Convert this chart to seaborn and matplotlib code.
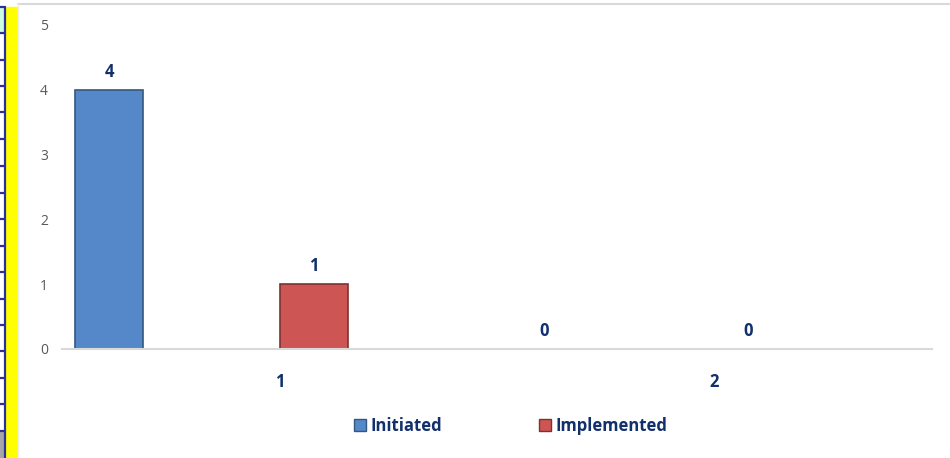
import numpy as np
import pandas as pd
import matplotlib
matplotlib.use("Agg")
import matplotlib.pyplot as plt
from matplotlib.patches import Rectangle, Patch
from matplotlib.lines import Line2D
from matplotlib.colors import to_hex
import seaborn as sns

# chart data
categories = ['1', '2']
initiated = [4, 0]
implemented = [1, 0]
y_ticks = [0, 1, 2, 3, 4, 5]

# excel style: 6 series slots per category, only two are used
slots = ['Initiated', 'empty 1', 'empty 2', 'Implemented', 'empty 3', 'empty 4']
palette = {s: 'white' for s in slots}
palette['Initiated'] = '#5588C8'
palette['Implemented'] = '#CD5553'
edges = {'#5588c8': '#34577F', '#cd5553': '#7E3230'}
navy = '#12306B'

df = pd.DataFrame({
    'category': categories * 2,
    'value': initiated + implemented,
    'series': ['Initiated'] * len(categories) + ['Implemented'] * len(categories),
})

sns.set_style('white')
plt.rcParams['font.family'] = ['Open Sans', 'DejaVu Sans']

W, H = 950, 458
fig = plt.figure(figsize=(W / 100, H / 100), dpi=100)

def px(x, y, w, h):
    return (x / W, 1 - (y + h) / H, w / W, h / H)

# spreadsheet strip on the left
x0, y0, w0, h0 = px(0, 7, 5, 26)
fig.patches.append(Rectangle((x0, y0), w0, h0, transform=fig.transFigure, color='#CCFFE0', zorder=0))
x0, y0, w0, h0 = px(0, 431, 5, 27)
fig.patches.append(Rectangle((x0, y0), w0, h0, transform=fig.transFigure, color='#A6A6A6', zorder=0))
x0, y0, w0, h0 = px(6, 7, 11.5, 451)
fig.patches.append(Rectangle((x0, y0), w0, h0, transform=fig.transFigure, color='#FFFF00', zorder=0))
fig.lines.append(Line2D([5.2 / W] * 2, [0, 1 - 7 / H], transform=fig.transFigure, color='#2E2E9E', lw=1.6))
for yy in [7, 33, 60, 86, 112, 139, 166, 193, 219, 246, 272, 299, 325, 351, 378, 404, 431]:
    fig.lines.append(Line2D([0, 5.2 / W], [1 - yy / H] * 2, transform=fig.transFigure, color='#2E2E9E', lw=1.6))
# chart frame top edge
fig.lines.append(Line2D([17.5 / W, 1], [1 - 3.5 / H] * 2, transform=fig.transFigure, color='#D9D9D9', lw=1.5))
fig.lines.append(Line2D([17.5 / W] * 2, [0, 1 - 3.5 / H], transform=fig.transFigure, color='#EEEEEE', lw=1))

ax = fig.add_axes(px(62, 25, 870, 324))
sns.barplot(data=df, x='category', y='value', hue='series', hue_order=slots,
            order=categories, palette=palette, width=0.938, gap=0,
            legend=False, ax=ax, saturation=1)

for bar in ax.patches:
    fc = to_hex(bar.get_facecolor())
    if fc in edges:
        bar.set_edgecolor(edges[fc])
        bar.set_linewidth(1.2)
        h = bar.get_height()
        ax.annotate('%g' % h, (bar.get_x() + bar.get_width() / 2, h),
                    xytext=(0, 6.5), textcoords='offset points', ha='center', va='bottom',
                    color=navy, fontsize=12, fontweight='bold')

ax.set_ylim(0, 5)
ax.set_xlim(-0.5, 1.5)
ax.set_yticks(y_ticks)
ax.set_yticklabels([str(t) for t in y_ticks])
ax.tick_params(axis='y', length=0, pad=10, labelsize=10, labelcolor='#595959')
ax.tick_params(axis='x', length=0, pad=17, labelsize=12, labelcolor=navy)
for t in ax.get_xticklabels():
    t.set_fontweight('bold')
ax.set_xlabel('')
ax.set_ylabel('')
for s in ['top', 'right', 'left']:
    ax.spines[s].set_visible(False)
ax.spines['bottom'].set_color('#D9D9D9')
ax.spines['bottom'].set_linewidth(1.5)

handles = [Patch(facecolor=palette[s], edgecolor=edges[palette[s].lower()], label=s)
           for s in ['Initiated', 'Implemented']]
leg = fig.legend(handles=handles, loc='center', bbox_to_anchor=(511 / W, 1 - 426 / H), ncol=2,
                 frameon=False, handlelength=0.7, handleheight=0.7, handletextpad=0.3,
                 columnspacing=5.8, prop={'weight': 'bold', 'size': 12})
for t in leg.get_texts():
    t.set_color(navy)

fig.savefig('out.png', dpi=100)
